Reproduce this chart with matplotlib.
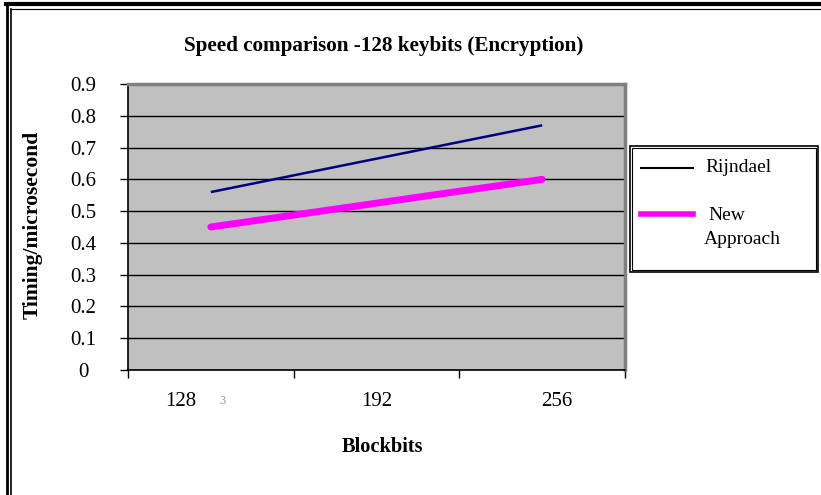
import matplotlib
matplotlib.use("Agg")
import matplotlib.pyplot as plt
from matplotlib.patches import Rectangle
from matplotlib.lines import Line2D

categories = ["128", "192", "256"]
rijndael = [0.56, 0.665, 0.77]
new_approach = [0.45, 0.525, 0.60]
yticks = [0, 0.1, 0.2, 0.3, 0.4, 0.5, 0.6, 0.7, 0.8, 0.9]
ytick_labels = ["0", "0.1", "0.2", "0.3", "0.4", "0.5", "0.6", "0.7", "0.8", "0.9"]

plt.rcParams['font.family'] = ['Liberation Serif', 'DejaVu Serif']

fig = plt.figure(figsize=(8.21, 4.95), dpi=100)
ax = fig.add_axes([128/821, 1-370/495, (625-128)/821, (370-84)/495])
ax.set_facecolor('#C0C0C0')

xpos = [i + 0.5 for i in range(len(categories))]
ax.plot(xpos, rijndael, color='#000080', lw=1.8, solid_capstyle='butt', zorder=3)
ax.plot(xpos, new_approach, color='#FF00FF', lw=5, solid_capstyle='round', zorder=3)

ax.set_xlim(0, len(categories))
ax.set_ylim(0, 0.9)
ax.set_yticks(yticks)
ax.set_yticklabels(ytick_labels, fontsize=15)
ax.yaxis.grid(True, color='black', lw=1.0)
ax.set_axisbelow(True)
ax.set_xticks(range(len(categories) + 1))
ax.set_xticklabels([])
ax.tick_params(axis='x', direction='out', length=6, width=1, color='black')
ax.tick_params(axis='y', direction='out', length=6, width=1, color='black', pad=26)
for lab in ax.get_yticklabels():
    lab.set_horizontalalignment('center')

# category labels (as in reference, slightly offset)
offsets = [-30, 0, 15]
for x, lab, off in zip(xpos, categories, offsets):
    ax.annotate(lab, xy=(x, 0), xycoords=('data', 'axes fraction'),
                xytext=(off, -32), textcoords='offset pixels',
                ha='center', va='center', fontsize=15)
fig.text(222/821, 1-401/495, "3", ha='center', va='center', fontsize=9, color='#999999')

for side in ['top', 'right']:
    ax.spines[side].set_color('#808080')
    ax.spines[side].set_linewidth(2.5)
for side in ['left', 'bottom']:
    ax.spines[side].set_color('black')
    ax.spines[side].set_linewidth(1.2)

fig.text(384/821, 1-46/495, "Speed comparison -128 keybits (Encryption)",
         ha='center', va='center', fontsize=15.2, fontweight='bold')
fig.text(382/821, 1-447/495, "Blockbits", ha='center', va='center',
         fontsize=14.7, fontweight='bold')
fig.text(33/821, 1-225/495, "Timing/microsecond", ha='center', va='center',
         fontsize=15.5, fontweight='bold', rotation=90)

# legend
lx0, ly0, lx1, ly1 = 630/821, 1-272/495, 818/821, 1-146/495
fig.patches.append(Rectangle((lx0, ly0), lx1-lx0, ly1-ly0, transform=fig.transFigure,
                             facecolor='white', edgecolor='black', lw=1.2))
fig.patches.append(Rectangle((lx0+2/821, ly0+2/495), lx1-lx0-4/821, ly1-ly0-4/495,
                             transform=fig.transFigure, facecolor='none',
                             edgecolor='black', lw=0.8))
fig.lines.append(Line2D([641/821, 693/821], [1-168/495, 1-168/495],
                        transform=fig.transFigure, color='black', lw=1.5))
fig.lines.append(Line2D([641/821, 693/821], [1-214/495, 1-214/495],
                        transform=fig.transFigure, color='#FF00FF', lw=4))
fig.text(705/821, 1-168/495, "Rijndael", ha='left', va='center', fontsize=14)
fig.text(708/821, 1-215/495, "New", ha='left', va='center', fontsize=14)
fig.text(704/821, 1-239/495, "Approach", ha='left', va='center', fontsize=14)

# outer figure frame
fig.lines.append(Line2D([7/821, 7/821], [0, 1-4/495], transform=fig.transFigure, color='black', lw=2))
fig.lines.append(Line2D([10.5/821, 10.5/821], [0, 1-9/495], transform=fig.transFigure, color='black', lw=1.2))
fig.lines.append(Line2D([6/821, 1], [1-4/495, 1-4/495], transform=fig.transFigure, color='black', lw=3))
fig.lines.append(Line2D([10/821, 1], [1-8.5/495, 1-8.5/495], transform=fig.transFigure, color='black', lw=0.8))

fig.savefig("out.png", dpi=100)
